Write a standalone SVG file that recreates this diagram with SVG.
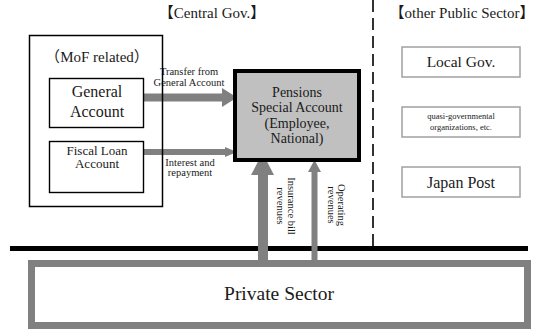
<svg xmlns="http://www.w3.org/2000/svg" width="534" height="329" viewBox="0 0 534 329">
  <defs>
    <style>
      .box { fill: #ffffff; stroke: #000000; stroke-width: 1.4; }
      .pub { fill: #ffffff; stroke: #a0a0a0; stroke-width: 1.5; }
      .flow { fill: #808080; }
    </style>
  </defs>

  <rect width="534" height="329" fill="#ffffff"/>

  <!-- section headers -->
  <g id="headers">
    <text x="212" y="18" font-size="15" text-anchor="middle" font-family="'Liberation Serif', serif" fill="#1a1a1a"><tspan font-family="'Noto Sans CJK JP', sans-serif">【</tspan>Central Gov.<tspan font-family="'Noto Sans CJK JP', sans-serif">】</tspan></text>
    <text x="462" y="18" font-size="15" text-anchor="middle" font-family="'Liberation Serif', serif" fill="#1a1a1a"><tspan font-family="'Noto Sans CJK JP', sans-serif">【</tspan>other Public Sector<tspan font-family="'Noto Sans CJK JP', sans-serif">】</tspan></text>
  </g>

  <!-- divider between central and other public sector -->
  <line x1="373" y1="0" x2="373" y2="247" stroke="#000" stroke-width="1.6" stroke-dasharray="12 6"/>

  <!-- boundary between public and private sector -->
  <rect x="10" y="246" width="518" height="5" fill="#000"/>

  <g id="private-sector">
    <rect x="31.5" y="263.5" width="496" height="62" fill="#ffffff" stroke="#808080" stroke-width="7"/>
    <text x="279" y="300" font-size="19.5" text-anchor="middle" font-family="'Liberation Serif', serif" fill="#1a1a1a">Private Sector</text>
  </g>

  <!-- flows -->
  <g id="connectors">
    <polygon class="flow" points="143,93.5 222,93.5 222,88 237,97.5 222,107 222,101.5 143,101.5"/>
    <polygon class="flow" points="143,149 225,149 225,147 237,152 225,157 225,155 143,155"/>
    <polygon class="flow" points="258,264 258,175 251,175 262.5,153 274,175 268,175 268,264"/>
    <polygon class="flow" points="311.5,264 311.5,172 308,172 314.5,160 321,172 317.5,172 317.5,264"/>
    <text x="189" y="75" font-size="10.5" text-anchor="middle" font-family="'Liberation Serif', serif" fill="#1a1a1a">Transfer from</text>
    <text x="189" y="86" font-size="10.5" text-anchor="middle" font-family="'Liberation Serif', serif" fill="#1a1a1a">General Account</text>
    <text x="190" y="166" font-size="10.5" text-anchor="middle" font-family="'Liberation Serif', serif" fill="#1a1a1a">Interest and</text>
    <text x="190" y="176" font-size="10.5" text-anchor="middle" font-family="'Liberation Serif', serif" fill="#1a1a1a">repayment</text>
    <text transform="translate(288,206) rotate(90)" font-size="10.5" text-anchor="middle" font-family="'Liberation Serif', serif" fill="#1a1a1a"><tspan x="0" y="0">Insurance bill</tspan><tspan x="0" y="11">revenues</tspan></text>
    <text transform="translate(338,205) rotate(90)" font-size="10.5" text-anchor="middle" font-family="'Liberation Serif', serif" fill="#1a1a1a"><tspan x="0" y="0">Operating</tspan><tspan x="0" y="10">revenues</tspan></text>
  </g>

  <g id="mof-related">
    <rect x="29.5" y="35.5" width="133" height="171" fill="none" stroke="#000" stroke-width="1.5"/>
    <text x="97" y="62" font-size="15" text-anchor="middle" font-family="'Liberation Serif', serif" fill="#1a1a1a"><tspan font-family="'Noto Sans CJK JP', sans-serif">（</tspan>MoF related<tspan font-family="'Noto Sans CJK JP', sans-serif">）</tspan></text>
  </g>

  <g id="general-account">
    <rect class="box" x="49.5" y="78.5" width="94" height="49"/>
    <text x="97" y="97" font-size="16" text-anchor="middle" font-family="'Liberation Serif', serif" fill="#1a1a1a">General</text>
    <text x="97" y="117" font-size="16" text-anchor="middle" font-family="'Liberation Serif', serif" fill="#1a1a1a">Account</text>
  </g>

  <g id="fiscal-loan-account">
    <rect class="box" x="49.5" y="141.5" width="94" height="51"/>
    <text x="97" y="155" font-size="13" text-anchor="middle" font-family="'Liberation Serif', serif" fill="#1a1a1a">Fiscal Loan</text>
    <text x="97" y="168" font-size="13" text-anchor="middle" font-family="'Liberation Serif', serif" fill="#1a1a1a">Account</text>
  </g>

  <g id="pensions-special-account">
    <rect x="235" y="71" width="124" height="89" fill="#c0c0c0" stroke="#000" stroke-width="4"/>
    <text x="297" y="97" font-size="14" text-anchor="middle" font-family="'Liberation Serif', serif" fill="#1a1a1a">Pensions</text>
    <text x="297" y="112" font-size="14" text-anchor="middle" font-family="'Liberation Serif', serif" fill="#1a1a1a">Special Account</text>
    <text x="297" y="128" font-size="14" text-anchor="middle" font-family="'Liberation Serif', serif" fill="#1a1a1a">(Employee,</text>
    <text x="297" y="143" font-size="14" text-anchor="middle" font-family="'Liberation Serif', serif" fill="#1a1a1a">National)</text>
  </g>

  <g id="local-gov">
    <rect class="pub" x="402" y="47" width="118" height="30"/>
    <text x="461" y="67" font-size="15.5" text-anchor="middle" font-family="'Liberation Serif', serif" fill="#1a1a1a">Local Gov.</text>
  </g>

  <g id="quasi-governmental">
    <rect class="pub" x="402" y="107" width="118" height="30"/>
    <text x="461" y="119" font-size="8.5" text-anchor="middle" font-family="'Liberation Serif', serif" fill="#1a1a1a">quasi-governmental</text>
    <text x="461" y="130" font-size="8.5" text-anchor="middle" font-family="'Liberation Serif', serif" fill="#1a1a1a">organizations, etc.</text>
  </g>

  <g id="japan-post">
    <rect class="pub" x="402" y="167" width="118" height="30"/>
    <text x="461" y="188" font-size="16" text-anchor="middle" font-family="'Liberation Serif', serif" fill="#1a1a1a">Japan Post</text>
  </g>
</svg>
